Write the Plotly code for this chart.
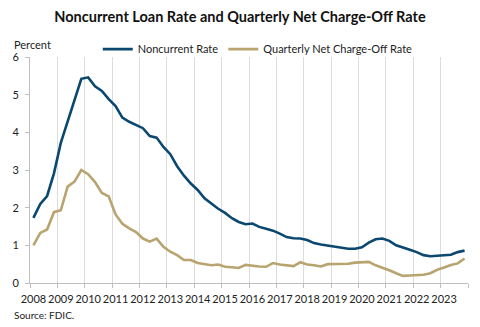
import plotly.graph_objects as go

years = [str(y) for y in range(2008, 2024)]
quarters = [f"{y} Q{q}" for y in years for q in range(1, 5)]

noncurrent_rate = [
    1.73, 2.10, 2.31, 2.91, 3.72, 4.28, 4.90, 5.42,
    5.46, 5.22, 5.10, 4.88, 4.70, 4.39, 4.28, 4.20,
    4.11, 3.90, 3.86, 3.61, 3.42, 3.10, 2.85, 2.64,
    2.47, 2.25, 2.10, 1.97, 1.86, 1.72, 1.62, 1.56,
    1.58, 1.49, 1.44, 1.39, 1.31, 1.22, 1.19, 1.18,
    1.14, 1.06, 1.02, 0.99, 0.98, 0.93, 0.91, 0.91,
    0.95, 1.07, 1.16, 1.18, 1.12, 1.00, 0.93, 0.88,
    0.82, 0.74, 0.71, 0.72, 0.74, 0.75, 0.82, 0.86,
]

charge_off_rate = [
    1.00, 1.33, 1.42, 1.88, 1.93, 2.56, 2.69, 3.00,
    2.89, 2.68, 2.39, 2.30, 1.82, 1.57, 1.45, 1.35,
    1.18, 1.10, 1.18, 0.96, 0.83, 0.74, 0.61, 0.61,
    0.53, 0.50, 0.47, 0.49, 0.43, 0.42, 0.40, 0.48,
    0.45, 0.44, 0.43, 0.53, 0.49, 0.47, 0.45, 0.55,
    0.49, 0.47, 0.44, 0.50, 0.50, 0.50, 0.51, 0.54,
    0.55, 0.56, 0.47, 0.41, 0.34, 0.26, 0.19, 0.20,
    0.21, 0.22, 0.26, 0.35, 0.41, 0.48, 0.52, 0.65,
]

series_names = ["Noncurrent Rate", "Quarterly Net Charge-Off Rate"]
series_colors = ["#0B4870", "#B8A46E"]

x_idx = list(range(len(quarters)))

FONT = "Lato"

fig = go.Figure()
for name, vals, col in zip(series_names, [noncurrent_rate, charge_off_rate], series_colors):
    fig.add_trace(go.Scatter(
        x=x_idx, y=vals, mode="lines", name=name,
        line=dict(color=col, width=2.6),
        text=quarters, hovertemplate="%{text}: %{y:.2f}%<extra>" + name + "</extra>",
    ))

fig.update_layout(
    width=480, height=327,
    margin=dict(l=21, r=12, t=57, b=44),
    paper_bgcolor="white", plot_bgcolor="white",
    font=dict(family=FONT, size=11, color="#222222"),
    title=dict(
        text="<b>Noncurrent Loan Rate and Quarterly Net Charge-Off Rate</b>",
        x=0.5, xanchor="center", y=0.947, yanchor="middle",
        font=dict(family=FONT, size=14.5, color="#111111"),
    ),
    showlegend=True,
    legend=dict(
        orientation="h", x=0.52, xanchor="center", y=1.035, yanchor="middle",
        font=dict(family=FONT, size=11, color="#222222"),
        bgcolor="rgba(0,0,0,0)", itemwidth=30, tracegroupgap=0,
    ),
    annotations=[
        dict(text="Percent", xref="paper", yref="paper", x=-0.04, y=1.0575,
             xanchor="left", yanchor="middle", showarrow=False,
             font=dict(family=FONT, size=11, color="#222222")),
        dict(text="Source: FDIC.", xref="paper", yref="paper", x=-0.04, y=-0.1416,
             xanchor="left", yanchor="middle", showarrow=False,
             font=dict(family=FONT, size=10, color="#222222")),
    ],
)

fig.update_xaxes(
    range=[-0.5, len(quarters) - 0.5],
    tickmode="array", tickvals=x_idx[::4], ticktext=years,
    tickangle=0,
    ticks="", showgrid=False, zeroline=False,
    showline=True, linecolor="#BFBFBF", linewidth=1,
    ticklabelstandoff=6,
    tickfont=dict(family=FONT, size=11, color="#222222"),
    minor=dict(tick0=-0.5, dtick=4, showgrid=True, gridcolor="#DCDCDC", gridwidth=1,
               ticks="outside", ticklen=4, tickcolor="#BFBFBF"),
    fixedrange=True,
)

fig.update_yaxes(
    range=[0, 6], tickvals=[0, 1, 2, 3, 4, 5, 6],
    showgrid=False, zeroline=False,
    showline=True, linecolor="#BFBFBF", linewidth=1,
    ticks="outside", ticklen=4, tickcolor="#BFBFBF",
    ticklabelstandoff=4,
    tickfont=dict(family=FONT, size=11, color="#222222"),
    fixedrange=True,
)

fig.write_html("out.html")
